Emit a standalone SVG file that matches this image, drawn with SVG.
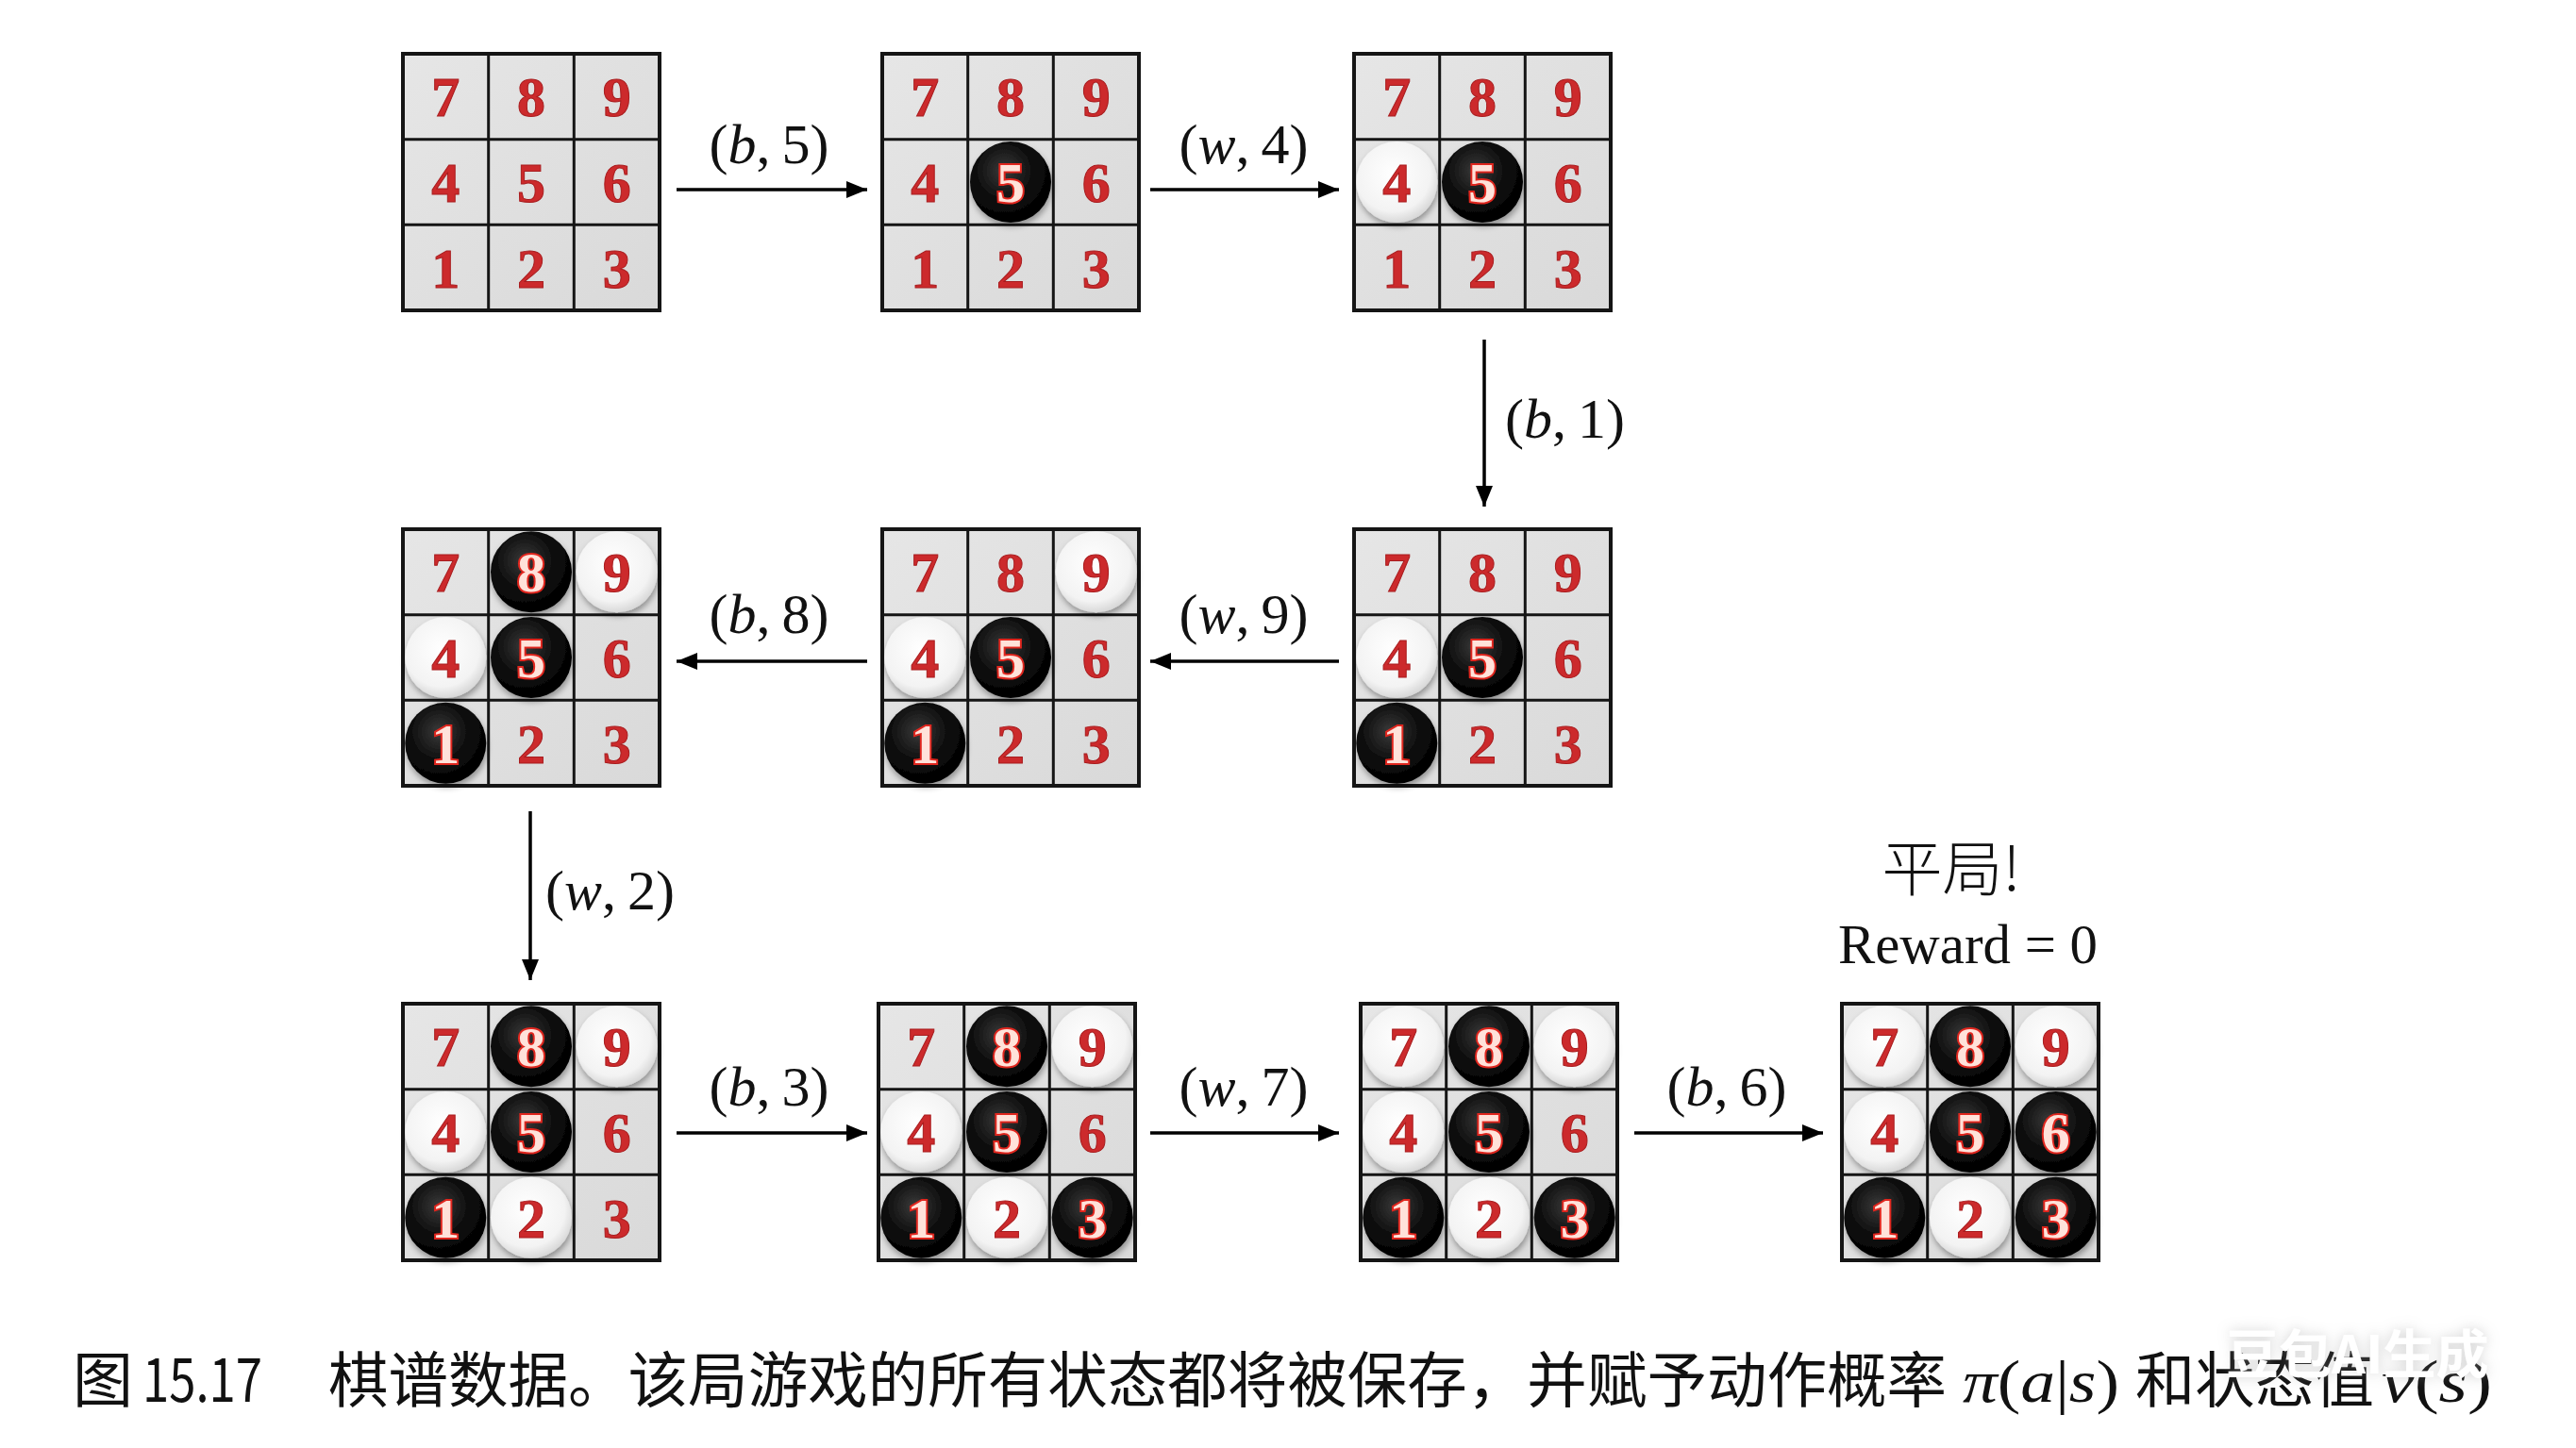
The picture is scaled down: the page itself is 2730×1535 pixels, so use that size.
<svg xmlns="http://www.w3.org/2000/svg" width="2730" height="1535" viewBox="0 0 2730 1535">
<style>
.bg{fill:url(#gcell)}
.grid{stroke:#151515;stroke-width:3;fill:none}
.frame{stroke:#151515;stroke-width:4;fill:none}
.sb{fill:url(#gb);filter:url(#sh)}
.sw{fill:url(#gw);filter:url(#sh)}
.d{font-family:"Liberation Serif","DejaVu Serif",serif;font-weight:bold;font-size:60px;text-anchor:middle;fill:#cc2a2c;stroke:#a81c1e;stroke-width:1}
.k{fill:#ffe2da;stroke:#e0261e;stroke-width:4;paint-order:stroke}
.lbl{font-family:"Liberation Serif","DejaVu Serif",serif;font-size:60px;fill:#111}
.it{font-style:italic}
.conn{stroke:#000;stroke-width:3.5;fill:none;marker-end:url(#ah)}
.cap{font-family:"Noto Sans CJK SC","Noto Sans",sans-serif;font-size:64px;fill:#111}
.capm{font-family:"Liberation Serif","DejaVu Serif",serif;font-size:64px;fill:#111}
</style>
<defs>
<linearGradient id="gcell" x1="0" y1="0" x2="1" y2="1"><stop offset="0" stop-color="#e6e6e6"/><stop offset="1" stop-color="#d9d9d9"/></linearGradient>
<radialGradient id="gb" cx="0.42" cy="0.36" r="0.66"><stop offset="0" stop-color="#3a3a3a"/><stop offset="0.55" stop-color="#0d0d0d"/><stop offset="1" stop-color="#000"/></radialGradient>
<radialGradient id="gw" cx="0.45" cy="0.4" r="0.66"><stop offset="0" stop-color="#ffffff"/><stop offset="0.7" stop-color="#f3f3f3"/><stop offset="1" stop-color="#cdcdcd"/></radialGradient>
<filter id="sh" x="-25%" y="-25%" width="150%" height="160%"><feDropShadow dx="1" dy="4" stdDeviation="3" flood-color="#000" flood-opacity="0.35"/></filter>
<filter id="halo" x="-20%" y="-40%" width="140%" height="180%"><feGaussianBlur in="SourceAlpha" stdDeviation="7" result="b"/><feFlood flood-color="#9a9a9a" flood-opacity="0.45"/><feComposite in2="b" operator="in" result="g"/><feMerge><feMergeNode in="g"/><feMergeNode in="SourceGraphic"/></feMerge></filter>
<marker id="ah" viewBox="0 0 22 18" refX="22" refY="9" markerWidth="22" markerHeight="18" markerUnits="userSpaceOnUse" orient="auto"><path d="M0 0L22 9L0 18z" fill="#000"/></marker>
</defs>
<rect width="2730" height="1535" fill="#fff"/>

<g id="s1" transform="translate(427,57)">
<rect class="bg" width="272" height="272"/>
<path class="grid" d="M90.7 0V272M181.3 0V272M0 90.7H272M0 181.3H272"/>
<rect class="frame" width="272" height="272"/>
<text class="d" x="45.3" y="66">7</text><text class="d" x="136" y="66">8</text><text class="d" x="226.7" y="66">9</text>
<text class="d" x="45.3" y="157">4</text><text class="d" x="136" y="157">5</text><text class="d" x="226.7" y="157">6</text>
<text class="d" x="45.3" y="248">1</text><text class="d" x="136" y="248">2</text><text class="d" x="226.7" y="248">3</text>
</g>

<g id="s2" transform="translate(935,57)">
<rect class="bg" width="272" height="272"/>
<path class="grid" d="M90.7 0V272M181.3 0V272M0 90.7H272M0 181.3H272"/>
<rect class="frame" width="272" height="272"/>
<circle class="sb" cx="136" cy="136" r="43"/>
<text class="d" x="45.3" y="66">7</text><text class="d" x="136" y="66">8</text><text class="d" x="226.7" y="66">9</text>
<text class="d" x="45.3" y="157">4</text><text class="d k" x="136" y="157">5</text><text class="d" x="226.7" y="157">6</text>
<text class="d" x="45.3" y="248">1</text><text class="d" x="136" y="248">2</text><text class="d" x="226.7" y="248">3</text>
</g>

<g id="s3" transform="translate(1435,57)">
<rect class="bg" width="272" height="272"/>
<path class="grid" d="M90.7 0V272M181.3 0V272M0 90.7H272M0 181.3H272"/>
<rect class="frame" width="272" height="272"/>
<circle class="sw" cx="45.3" cy="136" r="43"/>
<circle class="sb" cx="136" cy="136" r="43"/>
<text class="d" x="45.3" y="66">7</text><text class="d" x="136" y="66">8</text><text class="d" x="226.7" y="66">9</text>
<text class="d" x="45.3" y="157">4</text><text class="d k" x="136" y="157">5</text><text class="d" x="226.7" y="157">6</text>
<text class="d" x="45.3" y="248">1</text><text class="d" x="136" y="248">2</text><text class="d" x="226.7" y="248">3</text>
</g>

<g id="s4" transform="translate(1435,561)">
<rect class="bg" width="272" height="272"/>
<path class="grid" d="M90.7 0V272M181.3 0V272M0 90.7H272M0 181.3H272"/>
<rect class="frame" width="272" height="272"/>
<circle class="sw" cx="45.3" cy="136" r="43"/>
<circle class="sb" cx="136" cy="136" r="43"/>
<circle class="sb" cx="45.3" cy="226.7" r="43"/>
<text class="d" x="45.3" y="66">7</text><text class="d" x="136" y="66">8</text><text class="d" x="226.7" y="66">9</text>
<text class="d" x="45.3" y="157">4</text><text class="d k" x="136" y="157">5</text><text class="d" x="226.7" y="157">6</text>
<text class="d k" x="45.3" y="248">1</text><text class="d" x="136" y="248">2</text><text class="d" x="226.7" y="248">3</text>
</g>

<g id="s5" transform="translate(935,561)">
<rect class="bg" width="272" height="272"/>
<path class="grid" d="M90.7 0V272M181.3 0V272M0 90.7H272M0 181.3H272"/>
<rect class="frame" width="272" height="272"/>
<circle class="sw" cx="226.7" cy="45.3" r="43"/>
<circle class="sw" cx="45.3" cy="136" r="43"/>
<circle class="sb" cx="136" cy="136" r="43"/>
<circle class="sb" cx="45.3" cy="226.7" r="43"/>
<text class="d" x="45.3" y="66">7</text><text class="d" x="136" y="66">8</text><text class="d" x="226.7" y="66">9</text>
<text class="d" x="45.3" y="157">4</text><text class="d k" x="136" y="157">5</text><text class="d" x="226.7" y="157">6</text>
<text class="d k" x="45.3" y="248">1</text><text class="d" x="136" y="248">2</text><text class="d" x="226.7" y="248">3</text>
</g>

<g id="s6" transform="translate(427,561)">
<rect class="bg" width="272" height="272"/>
<path class="grid" d="M90.7 0V272M181.3 0V272M0 90.7H272M0 181.3H272"/>
<rect class="frame" width="272" height="272"/>
<circle class="sb" cx="136" cy="45.3" r="43"/>
<circle class="sw" cx="226.7" cy="45.3" r="43"/>
<circle class="sw" cx="45.3" cy="136" r="43"/>
<circle class="sb" cx="136" cy="136" r="43"/>
<circle class="sb" cx="45.3" cy="226.7" r="43"/>
<text class="d" x="45.3" y="66">7</text><text class="d k" x="136" y="66">8</text><text class="d" x="226.7" y="66">9</text>
<text class="d" x="45.3" y="157">4</text><text class="d k" x="136" y="157">5</text><text class="d" x="226.7" y="157">6</text>
<text class="d k" x="45.3" y="248">1</text><text class="d" x="136" y="248">2</text><text class="d" x="226.7" y="248">3</text>
</g>

<g id="s7" transform="translate(427,1064)">
<rect class="bg" width="272" height="272"/>
<path class="grid" d="M90.7 0V272M181.3 0V272M0 90.7H272M0 181.3H272"/>
<rect class="frame" width="272" height="272"/>
<circle class="sb" cx="136" cy="45.3" r="43"/>
<circle class="sw" cx="226.7" cy="45.3" r="43"/>
<circle class="sw" cx="45.3" cy="136" r="43"/>
<circle class="sb" cx="136" cy="136" r="43"/>
<circle class="sb" cx="45.3" cy="226.7" r="43"/>
<circle class="sw" cx="136" cy="226.7" r="43"/>
<text class="d" x="45.3" y="66">7</text><text class="d k" x="136" y="66">8</text><text class="d" x="226.7" y="66">9</text>
<text class="d" x="45.3" y="157">4</text><text class="d k" x="136" y="157">5</text><text class="d" x="226.7" y="157">6</text>
<text class="d k" x="45.3" y="248">1</text><text class="d" x="136" y="248">2</text><text class="d" x="226.7" y="248">3</text>
</g>

<g id="s8" transform="translate(931,1064)">
<rect class="bg" width="272" height="272"/>
<path class="grid" d="M90.7 0V272M181.3 0V272M0 90.7H272M0 181.3H272"/>
<rect class="frame" width="272" height="272"/>
<circle class="sb" cx="136" cy="45.3" r="43"/>
<circle class="sw" cx="226.7" cy="45.3" r="43"/>
<circle class="sw" cx="45.3" cy="136" r="43"/>
<circle class="sb" cx="136" cy="136" r="43"/>
<circle class="sb" cx="45.3" cy="226.7" r="43"/>
<circle class="sw" cx="136" cy="226.7" r="43"/>
<circle class="sb" cx="226.7" cy="226.7" r="43"/>
<text class="d" x="45.3" y="66">7</text><text class="d k" x="136" y="66">8</text><text class="d" x="226.7" y="66">9</text>
<text class="d" x="45.3" y="157">4</text><text class="d k" x="136" y="157">5</text><text class="d" x="226.7" y="157">6</text>
<text class="d k" x="45.3" y="248">1</text><text class="d" x="136" y="248">2</text><text class="d k" x="226.7" y="248">3</text>
</g>

<g id="s9" transform="translate(1442,1064)">
<rect class="bg" width="272" height="272"/>
<path class="grid" d="M90.7 0V272M181.3 0V272M0 90.7H272M0 181.3H272"/>
<rect class="frame" width="272" height="272"/>
<circle class="sw" cx="45.3" cy="45.3" r="43"/>
<circle class="sb" cx="136" cy="45.3" r="43"/>
<circle class="sw" cx="226.7" cy="45.3" r="43"/>
<circle class="sw" cx="45.3" cy="136" r="43"/>
<circle class="sb" cx="136" cy="136" r="43"/>
<circle class="sb" cx="45.3" cy="226.7" r="43"/>
<circle class="sw" cx="136" cy="226.7" r="43"/>
<circle class="sb" cx="226.7" cy="226.7" r="43"/>
<text class="d" x="45.3" y="66">7</text><text class="d k" x="136" y="66">8</text><text class="d" x="226.7" y="66">9</text>
<text class="d" x="45.3" y="157">4</text><text class="d k" x="136" y="157">5</text><text class="d" x="226.7" y="157">6</text>
<text class="d k" x="45.3" y="248">1</text><text class="d" x="136" y="248">2</text><text class="d k" x="226.7" y="248">3</text>
</g>

<g id="s10" transform="translate(1952,1064)">
<rect class="bg" width="272" height="272"/>
<path class="grid" d="M90.7 0V272M181.3 0V272M0 90.7H272M0 181.3H272"/>
<rect class="frame" width="272" height="272"/>
<circle class="sw" cx="45.3" cy="45.3" r="43"/>
<circle class="sb" cx="136" cy="45.3" r="43"/>
<circle class="sw" cx="226.7" cy="45.3" r="43"/>
<circle class="sw" cx="45.3" cy="136" r="43"/>
<circle class="sb" cx="136" cy="136" r="43"/>
<circle class="sb" cx="226.7" cy="136" r="43"/>
<circle class="sb" cx="45.3" cy="226.7" r="43"/>
<circle class="sw" cx="136" cy="226.7" r="43"/>
<circle class="sb" cx="226.7" cy="226.7" r="43"/>
<text class="d" x="45.3" y="66">7</text><text class="d k" x="136" y="66">8</text><text class="d" x="226.7" y="66">9</text>
<text class="d" x="45.3" y="157">4</text><text class="d k" x="136" y="157">5</text><text class="d k" x="226.7" y="157">6</text>
<text class="d k" x="45.3" y="248">1</text><text class="d" x="136" y="248">2</text><text class="d k" x="226.7" y="248">3</text>
</g>

<g id="connectors">
<path class="conn" d="M717 201H919"/>
<path class="conn" d="M1219 201H1419"/>
<path class="conn" d="M1573 360V537"/>
<path class="conn" d="M919 701H717"/>
<path class="conn" d="M1419 701H1219"/>
<path class="conn" d="M562 860V1039"/>
<path class="conn" d="M717 1201H919"/>
<path class="conn" d="M1219 1201H1419"/>
<path class="conn" d="M1732 1201H1932"/>
</g>

<g id="labels">
<text class="lbl" x="815" y="173" text-anchor="middle">(<tspan class="it">b</tspan>,&#8201;5)</text>
<text class="lbl" x="1318" y="173" text-anchor="middle">(<tspan class="it">w</tspan>,&#8201;4)</text>
<text class="lbl" x="1595" y="464">(<tspan class="it">b</tspan>,&#8201;1)</text>
<text class="lbl" x="815" y="671" text-anchor="middle">(<tspan class="it">b</tspan>,&#8201;8)</text>
<text class="lbl" x="1318" y="671" text-anchor="middle">(<tspan class="it">w</tspan>,&#8201;9)</text>
<text class="lbl" x="578" y="964">(<tspan class="it">w</tspan>,&#8201;2)</text>
<text class="lbl" x="815" y="1172" text-anchor="middle">(<tspan class="it">b</tspan>,&#8201;3)</text>
<text class="lbl" x="1318" y="1172" text-anchor="middle">(<tspan class="it">w</tspan>,&#8201;7)</text>
<text class="lbl" x="1830" y="1172" text-anchor="middle">(<tspan class="it">b</tspan>,&#8201;6)</text>
<text class="cap" x="2068" y="944" text-anchor="middle" font-size="58" font-weight="300">平局!</text>
<text class="lbl" x="1948" y="1021" font-size="62" textLength="275" lengthAdjust="spacingAndGlyphs">Reward = 0</text>
</g>

<g id="caption">
<text class="cap" x="77" y="1486">图</text>
<text class="cap" x="151" y="1486" textLength="127" lengthAdjust="spacingAndGlyphs">15.17</text>
<text class="cap" x="348" y="1486" textLength="1715" lengthAdjust="spacingAndGlyphs">棋谱数据。该局游戏的所有状态都将被保存，并赋予动作概率</text>
<text class="capm" x="2080" y="1486" textLength="166" lengthAdjust="spacingAndGlyphs"><tspan class="it">π</tspan>(<tspan class="it">a</tspan>|<tspan class="it">s</tspan>)</text>
<text class="cap" x="2263" y="1486" textLength="253" lengthAdjust="spacingAndGlyphs">和状态值</text>
<text class="capm" x="2524" y="1486" textLength="117" lengthAdjust="spacingAndGlyphs"><tspan class="it">v</tspan>(<tspan class="it">s</tspan>)</text>
</g>

<g id="watermark">
<text x="2359" y="1456" font-family="Noto Sans CJK SC,sans-serif" font-weight="bold" font-size="56" fill="#ffffff" filter="url(#halo)">豆包AI生成</text>
</g>
</svg>
